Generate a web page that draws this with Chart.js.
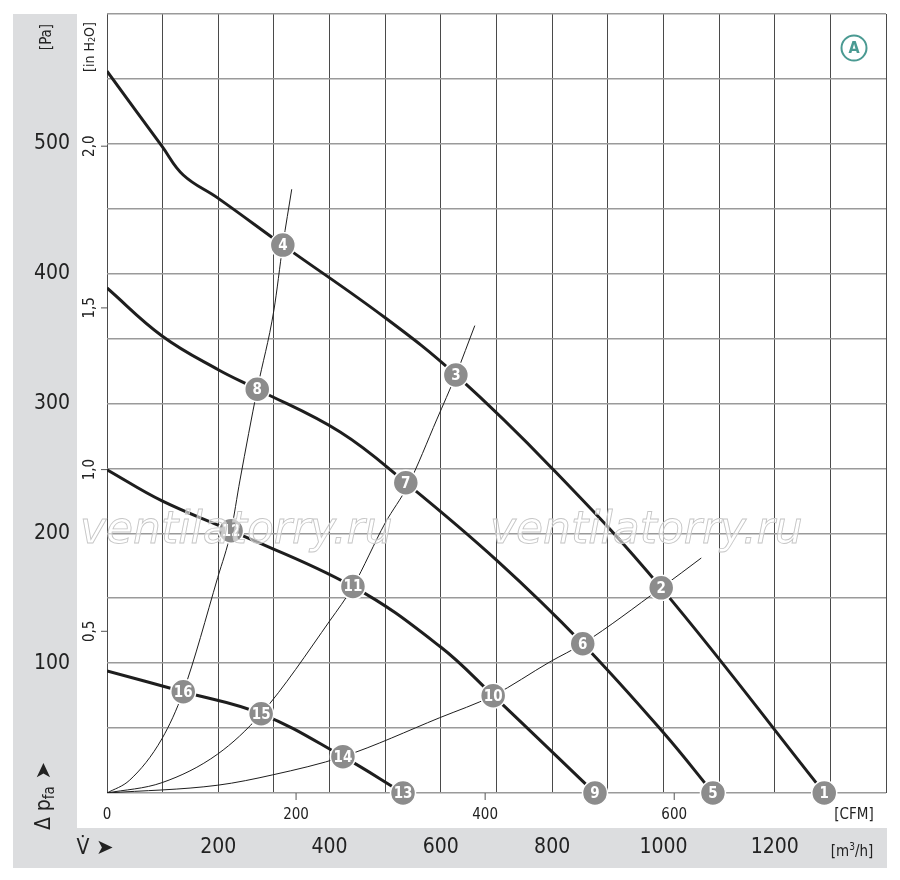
<!DOCTYPE html>
<html>
<head>
<meta charset="utf-8">
<title>Fan curves</title>
<script src="https://cdn.jsdelivr.net/npm/chart.js@4/dist/chart.umd.min.js"></script>
<style>
  html, body { margin: 0; padding: 0; background: #fff; }
  #wrap { width: 900px; height: 880px; }
</style>
</head>
<body>
<div id="wrap"><canvas id="fanChart" width="900" height="880"></canvas></div>
<script>
// ---------- Data (flow in m3/h, pressure in Pa) ----------
const flowTicks = [200, 400, 600, 800, 1000, 1200];
const paTicks = [100, 200, 300, 400, 500];
const cfmTicks = [0, 200, 400, 600];
const inH2OTicks = [0.5, 1.0, 1.5, 2.0];
const inH2OLabels = ['0,5', '1,0', '1,5', '2,0'];

// fan characteristic curves
const curve1Flow = [0, 99, 137, 200, 316, 500, 627, 800, 996, 1289];
const curve1Pa   = [556, 498, 476, 458, 422, 366, 322, 250, 158, 0];
const curve2Flow = [0, 99, 200, 270, 419, 537, 701, 855, 1001, 1089];
const curve2Pa   = [389, 352, 326, 311, 278, 239, 179, 115, 46, 0];
const curve3Flow = [0, 99, 223, 442, 598, 694, 877];
const curve3Pa   = [249, 225, 202, 159, 113, 75, 0];
const curve4Flow = [0, 137, 277, 424, 532];
const curve4Pa   = [94, 78, 61, 28, 0];

// system (resistance) curves
const sys1Flow = [0, 41, 99, 137, 199, 223, 239, 270, 300, 316, 332];
const sys1Pa   = [0, 10, 42, 78, 166, 202, 241, 311, 372, 422, 465];
const sys2Flow = [0, 99, 199, 277, 401, 442, 500, 541, 593, 627, 661];
const sys2Pa   = [0, 8, 30, 61, 133, 159, 208, 237, 288, 322, 360];
const sys3Flow = [0, 199, 298, 424, 598, 694, 796, 855, 996, 1068];
const sys3Pa   = [0, 6, 14, 28, 58, 75, 101, 115, 158, 181];

// operating point markers
const markerLabels = ['1', '2', '3', '4', '5', '6', '7', '8', '9', '10', '11', '12', '13', '14', '15', '16'];
const markerFlow = [1289, 996, 627, 316, 1089, 855, 537, 270, 877, 694, 442, 223, 532, 424, 277, 137];
const markerPa   = [0, 158, 322, 422, 0, 115, 239, 311, 0, 75, 159, 202, 0, 28, 61, 78];

const M3H_PER_CFM = 1.699;
const PA_PER_INH2O = 249.09;

// ---------- Helpers ----------
const NARROW = "'Liberation Sans Narrow', 'DejaVu Sans Condensed', 'Roboto', sans-serif";

function toPoints(xs, ys) {
  return xs.map((x, i) => ({ x, y: ys[i] }));
}

function fanCurve(xs, ys) {
  return {
    data: toPoints(xs, ys),
    showLine: true,
    borderColor: '#1e1e1e',
    borderWidth: 3,
    pointRadius: 0,
    tension: 0.4,
    order: 1
  };
}

function systemCurve(xs, ys) {
  return {
    data: toPoints(xs, ys),
    showLine: true,
    borderColor: '#1e1e1e',
    borderWidth: 1,
    pointRadius: 0,
    cubicInterpolationMode: 'monotone',
    order: 2
  };
}

// draw a row of text runs (for sub/superscripts), centred on x,y
function drawRuns(ctx, runs, x, y, angle, align) {
  ctx.save();
  ctx.translate(x, y);
  ctx.rotate(angle || 0);
  let total = 0;
  runs.forEach(r => { ctx.font = r.font; total += ctx.measureText(r.text).width; });
  let cx = align === 'right' ? -total : (align === 'left' ? 0 : -total / 2);
  ctx.textAlign = 'left';
  ctx.textBaseline = 'middle';
  runs.forEach(r => {
    ctx.font = r.font;
    ctx.fillStyle = r.color || '#222';
    ctx.fillText(r.text, cx, r.dy || 0);
    cx += ctx.measureText(r.text).width;
  });
  ctx.restore();
}

// ---------- Plugins ----------
const backgroundPlugin = {
  id: 'background',
  beforeDraw(chart) {
    const ctx = chart.ctx;
    ctx.save();
    ctx.fillStyle = '#fff';
    ctx.fillRect(0, 0, chart.width, chart.height);
    ctx.fillStyle = '#dcdddf';
    ctx.fillRect(13, 14, 64, 854);
    ctx.fillRect(13, 828, 874, 40);
    ctx.restore();
  }
};

const markerLabelPlugin = {
  id: 'markerLabels',
  afterDatasetsDraw(chart) {
    const ctx = chart.ctx;
    const meta = chart.getDatasetMeta(0);
    ctx.save();
    ctx.fillStyle = '#fff';
    ctx.font = 'bold 15px ' + NARROW;
    ctx.textAlign = 'center';
    ctx.textBaseline = 'middle';
    meta.data.forEach((pt, i) => {
      ctx.fillText(markerLabels[i], pt.x, pt.y + 1);
    });
    ctx.restore();
  }
};

const axisTextPlugin = {
  id: 'axisText',
  afterDraw(chart) {
    const ctx = chart.ctx;
    const { x, y, x2, y2 } = chart.scales;
    const area = chart.chartArea;
    const dark = '#222';

    ctx.save();
    ctx.fillStyle = dark;
    ctx.textBaseline = 'middle';

    // Pa labels
    ctx.font = '21px ' + NARROW;
    ctx.textAlign = 'right';
    paTicks.forEach(v => ctx.fillText(String(v), 70, y.getPixelForValue(v)));

    // in H2O labels + tick marks
    ctx.strokeStyle = '#555';
    ctx.lineWidth = 1;
    inH2OTicks.forEach((v, i) => {
      const py = y2.getPixelForValue(v);
      ctx.beginPath();
      ctx.moveTo(area.left - 6, py);
      ctx.lineTo(area.left, py);
      ctx.stroke();
      drawRuns(ctx, [{ text: inH2OLabels[i], font: '15px ' + NARROW }], 90, py, -Math.PI / 2);
    });

    // CFM labels + tick marks
    ctx.font = '15px ' + NARROW;
    ctx.textAlign = 'center';
    cfmTicks.forEach(v => {
      const px = x2.getPixelForValue(v);
      if (v > 0) {
        ctx.beginPath();
        ctx.moveTo(px, area.bottom);
        ctx.lineTo(px, area.bottom + 7);
        ctx.stroke();
      }
      ctx.fillText(String(v), px, 815);
    });
    ctx.fillText('[CFM]', 854, 815);

    // m3/h labels
    ctx.font = '21px ' + NARROW;
    flowTicks.forEach(v => ctx.fillText(String(v), x.getPixelForValue(v), 848));
    drawRuns(ctx, [
      { text: '[m', font: '15px ' + NARROW, dy: 2 },
      { text: '3', font: '10px ' + NARROW, dy: -3 },
      { text: '/h]', font: '15px ' + NARROW, dy: 2 }
    ], 852, 850, 0);

    // V-dot arrow
    drawRuns(ctx, [
      { text: 'V\u0307', font: '21px ' + NARROW },
      { text: ' \u27A4', font: '21px DejaVu Sans' }
    ], 95, 849, 0);

    // unit labels on the left
    drawRuns(ctx, [{ text: '[Pa]', font: '15px ' + NARROW }], 47, 37, -Math.PI / 2);
    drawRuns(ctx, [
      { text: '[in H', font: '14px ' + NARROW },
      { text: '2', font: '9px ' + NARROW, dy: 3 },
      { text: 'O]', font: '14px ' + NARROW }
    ], 90, 47, -Math.PI / 2);

    // delta p_fa arrow
    drawRuns(ctx, [
      { text: '\u0394 p', font: '21px ' + NARROW },
      { text: 'fa', font: '15px ' + NARROW, dy: 5 },
      { text: ' \u27A4', font: '21px DejaVu Sans' }
    ], 45, 796, -Math.PI / 2);

    // circled A
    ctx.strokeStyle = '#4a9a92';
    ctx.lineWidth = 2;
    ctx.beginPath();
    ctx.arc(854, 48, 12.5, 0, Math.PI * 2);
    ctx.stroke();
    ctx.fillStyle = '#4a9a92';
    ctx.font = 'bold 16px ' + NARROW;
    ctx.textAlign = 'center';
    ctx.fillText('A', 854, 49);

    // watermark
    ctx.font = 'oblique 44px DejaVu Sans';
    ctx.textAlign = 'left';
    ctx.textBaseline = 'alphabetic';
    ctx.lineWidth = 0.9;
    ctx.strokeStyle = '#c6c6c6';
    ctx.fillStyle = 'rgba(255,255,255,0.55)';
    [80, 490].forEach(wx => {
      ctx.fillText('ventilatorry.ru', wx, 543, 330);
      ctx.strokeText('ventilatorry.ru', wx, 543, 330);
    });

    ctx.restore();
  }
};

// ---------- Chart ----------
const ctx = document.getElementById('fanChart').getContext('2d');

new Chart(ctx, {
  type: 'scatter',
  data: {
    datasets: [
      {
        data: toPoints(markerFlow, markerPa),
        pointRadius: 12.5,
        pointHoverRadius: 12.5,
        pointBackgroundColor: '#8c8c8c',
        pointBorderColor: '#fff',
        pointBorderWidth: 1.5,
        showLine: false,
        clip: false,
        order: 0
      },
      fanCurve(curve1Flow, curve1Pa),
      fanCurve(curve2Flow, curve2Pa),
      fanCurve(curve3Flow, curve3Pa),
      fanCurve(curve4Flow, curve4Pa),
      systemCurve(sys1Flow, sys1Pa),
      systemCurve(sys2Flow, sys2Pa),
      systemCurve(sys3Flow, sys3Pa)
    ]
  },
  options: {
    responsive: false,
    animation: false,
    events: [],
    layout: { padding: { left: 107, right: 14, top: 14, bottom: 87 } },
    plugins: {
      legend: { display: false },
      tooltip: { enabled: false }
    },
    scales: {
      x: {
        type: 'linear',
        min: 0,
        max: 1400,
        ticks: { stepSize: 100, display: false },
        grid: { color: '#4a4a4a', lineWidth: 1, drawTicks: false },
        border: { display: false }
      },
      y: {
        type: 'linear',
        min: 0,
        max: 600,
        ticks: { stepSize: 50, display: false },
        grid: { color: '#9a9a9a', lineWidth: 1.6, drawTicks: false },
        border: { display: false }
      },
      x2: {
        type: 'linear',
        axis: 'x',
        min: 0,
        max: 1400 / M3H_PER_CFM,
        display: false
      },
      y2: {
        type: 'linear',
        axis: 'y',
        min: 0,
        max: 600 / PA_PER_INH2O,
        display: false
      }
    }
  },
  plugins: [backgroundPlugin, markerLabelPlugin, axisTextPlugin]
});
</script>
</body>
</html>
